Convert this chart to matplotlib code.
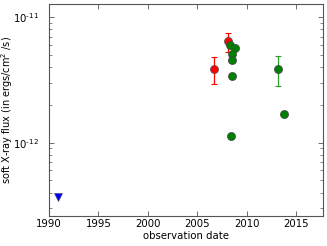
import matplotlib
matplotlib.use("Agg")
import matplotlib.pyplot as plt
import math
from matplotlib.ticker import LogLocator, NullFormatter, FuncFormatter

# data
blue_x = [1990.95]
blue_y = [3.7e-13]

red_x = [2006.65, 2008.13]
red_y = [3.9e-12, 6.47e-12]
red_lo = [2.95e-12, 5.3e-12]
red_hi = [4.8e-12, 7.5e-12]

green_x = [2008.27, 2008.8, 2008.47, 2008.54, 2008.54, 2008.37, 2013.19, 2013.76]
green_y = [6.05e-12, 5.69e-12, 5.1e-12, 4.59e-12, 3.38e-12, 1.13e-12, 3.87e-12, 1.7e-12]

gerr_x = [2013.19]
gerr_y = [3.87e-12]
gerr_lo = [2.82e-12]
gerr_hi = [4.88e-12]

plt.rcParams['font.family'] = ['DejaVu Sans']
fig = plt.figure(figsize=(3.27, 2.46), dpi=100)
ax = fig.add_axes([49/327, 1 - 216/246, (323-49)/327, (216-4)/246])

fs = 7.3
ax.errorbar(red_x, red_y,
            yerr=[[y - l for y, l in zip(red_y, red_lo)], [h - y for y, h in zip(red_y, red_hi)]],
            fmt='none', ecolor='red', elinewidth=0.9, capsize=2, capthick=0.8, zorder=2)
ax.errorbar(gerr_x, gerr_y,
            yerr=[[y - l for y, l in zip(gerr_y, gerr_lo)], [h - y for y, h in zip(gerr_y, gerr_hi)]],
            fmt='none', ecolor='#2ca02c', elinewidth=0.9, capsize=2, capthick=0.8, zorder=2)
ax.plot(red_x, red_y, 'o', color='red', markersize=5.8, markeredgecolor='#555555', markeredgewidth=0.5, zorder=3)
ax.plot(green_x, green_y, 'o', color='green', markersize=5.8, markeredgecolor='#444444', markeredgewidth=0.5, zorder=3)
ax.plot(blue_x, blue_y, 'v', color='blue', markersize=6, markeredgecolor='#444444', markeredgewidth=0.4, zorder=3)

def logfmt(v, pos):
    e = int(round(math.log10(v)))
    return r'$\mathdefault{10^{\text{%d}}}$' % e

ax.set_yscale('log')
ax.set_xlim(1990, 2017.7)
ax.set_ylim(2.6e-13, 1.276e-11)
ax.set_xticks([1990, 1995, 2000, 2005, 2010, 2015])
ax.yaxis.set_major_locator(LogLocator(base=10))
ax.yaxis.set_major_formatter(FuncFormatter(logfmt))
ax.yaxis.set_minor_locator(LogLocator(base=10, subs=range(2, 10)))
ax.yaxis.set_minor_formatter(NullFormatter())
ax.tick_params(which='both', direction='in', top=True, right=True, labelsize=fs)
ax.tick_params(axis='x', pad=2.5)
ax.tick_params(axis='y', pad=7)
ax.tick_params(which='major', length=3.5, width=0.6, color='#555555')
ax.tick_params(which='minor', length=2, width=0.5, color='#555555')
for s in ax.spines.values():
    s.set_color('#555555')
    s.set_linewidth(0.8)

ax.set_xlabel('observation date', fontsize=fs, labelpad=1)
ax.set_ylabel('soft X-ray flux (in ergs/cm$^2$ /s)', fontsize=7.0)
ax.yaxis.set_label_coords(-33.5/274, 0.5)

fig.savefig('out.png', dpi=100)
